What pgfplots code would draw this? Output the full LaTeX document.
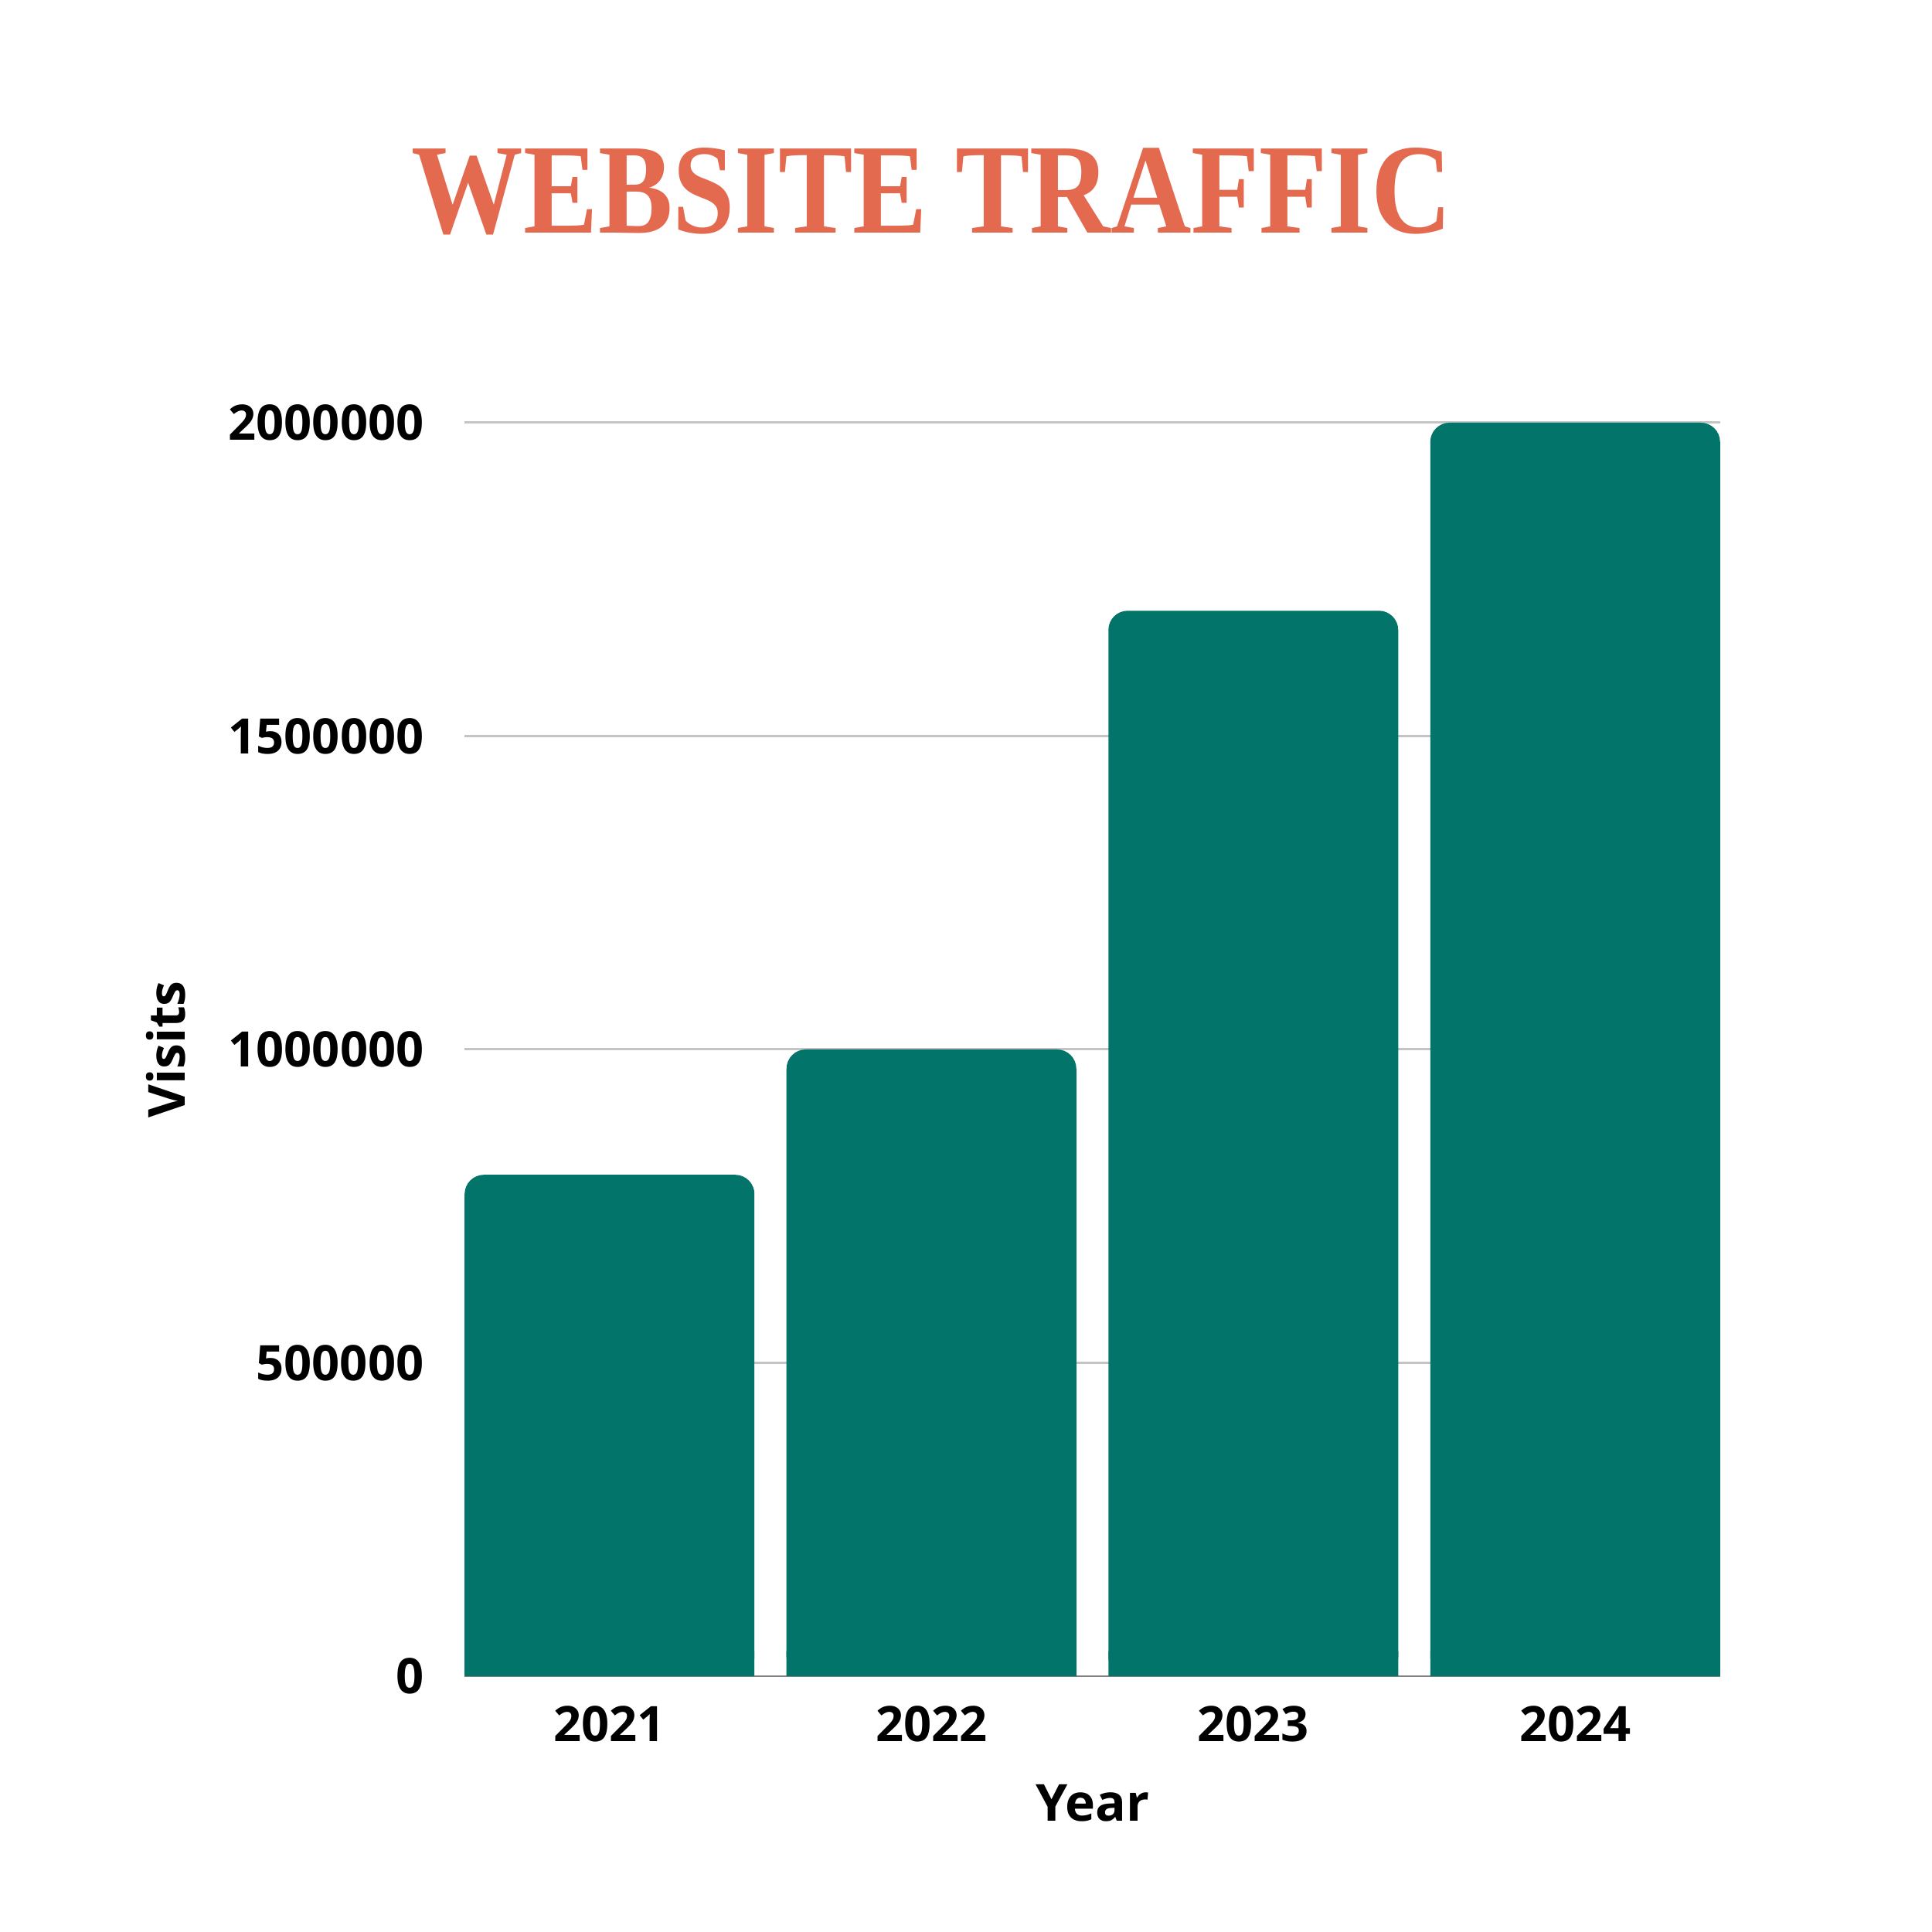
\documentclass[border=0pt]{standalone}
\usepackage{fontspec}
\setmainfont{Open Sans}
\newfontfamily\titlefont{Liberation Serif}
\usepackage{pgfplots}
\pgfplotsset{compat=1.18}
\usepackage{pgfplotstable}
\definecolor{barteal}{HTML}{03746A}
\definecolor{titleorange}{HTML}{E36A4E}
\definecolor{gridgray}{HTML}{C4C4C4}
\definecolor{basegray}{HTML}{808080}
\pgfplotstableread{
x v
0 800000
1 1000000
2 1700000
3 2000000
}\visits
\begin{document}
\begin{tikzpicture}
\path[use as bounding box] (0,0) rectangle (25cm,25cm);
\fill[white] (0,0) rectangle (25cm,25cm);
\node[anchor=base, text=titleorange, inner sep=0pt] at (12.06cm,21.98cm)
  {\scalebox{0.87}[1]{\titlefont\bfseries\fontsize{47.3}{50}\selectfont WEBSITE TRAFFIC}};
\begin{axis}[
  at={(6.01cm,3.31cm)}, anchor=south west,
  scale only axis, width=16.25cm, height=16.22cm,
  xmin=-0.4507, xmax=3.4507, ymin=0, ymax=2000000,
  scaled y ticks=false,
  axis line style={draw=none},
  major tick length=0pt,
  ytick={500000,1000000,1500000,2000000},
  yticklabels={500000,1000000,1500000,2000000},
  extra y ticks={0}, extra y tick labels={0},
  extra y tick style={grid style={color=basegray, line width=0.5pt}},
  ymajorgrids,
  grid style={color=gridgray, line width=0.85pt},
  xtick={0,1,2,3}, xticklabels={2021,2022,2023,2024},
  tick label style={font=\bfseries\fontsize{18}{22}\selectfont, inner sep=0pt},
  yticklabel style={anchor=east, xshift=-0.52cm},
  xticklabel style={anchor=north, yshift=-0.38cm},
  xlabel={Year}, ylabel={Visits},
  label style={font=\bfseries\fontsize{18.8}{22}\selectfont, inner sep=0pt},
  xlabel style={at={(axis description cs:0.5,-0.1153)}, anchor=base},
  ylabel style={at={(axis description cs:-0.2222,0.5)}, anchor=base},
]
\addplot[ybar, bar width=3.75cm, bar shift=0pt, fill=barteal, draw=none, rounded corners=0.25cm]
  table[x=x, y=v]{\visits};
% square off the bottom corners of the bars
\addplot[ybar, bar width=3.75cm, bar shift=0pt, fill=barteal, draw=none]
  table[x=x, y expr=40000]{\visits};
\end{axis}
\end{tikzpicture}
\end{document}
